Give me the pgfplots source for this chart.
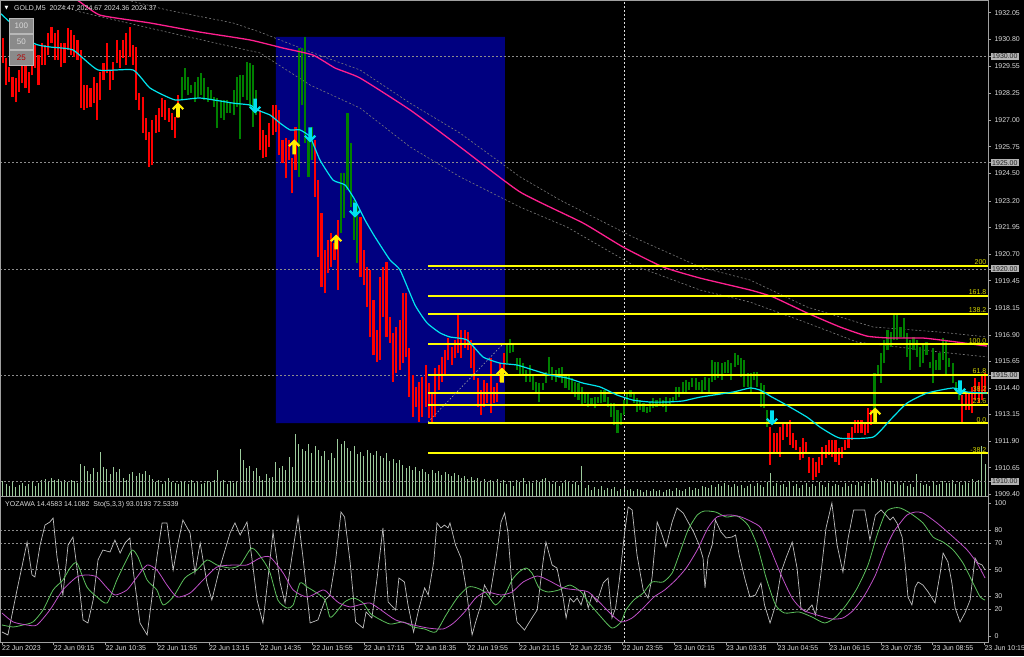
\documentclass[border=0pt]{standalone}
\usepackage{pgfplots}
\pgfplotsset{compat=1.18}
\usepackage{pgfplotstable}
\usepackage{fontspec}
\setmainfont{Liberation Sans}
\newfontfamily\dejavu{DejaVu Sans}

\definecolor{barred}{HTML}{FF0000}
\definecolor{bargreen}{HTML}{008000}
\definecolor{navyrect}{HTML}{000080}
\definecolor{maaqua}{HTML}{00E5EE}
\definecolor{mapink}{HTML}{FF1F8F}
\definecolor{fibyellow}{HTML}{FFFF00}
\definecolor{fibtext}{HTML}{D8D800}
\definecolor{gridgray}{HTML}{8C8C8C}
\definecolor{axisgray}{HTML}{A0A0A0}
\definecolor{labelgray}{HTML}{DCDCDC}
\definecolor{boxgray}{HTML}{B4B4B4}
\definecolor{boxtext}{HTML}{202020}
\definecolor{volgreen}{HTML}{9CCB9C}
\definecolor{arrowyellow}{HTML}{FFEE00}
\definecolor{arrowcyan}{HTML}{00E0F0}
\definecolor{stogray}{HTML}{BEBEBE}
\definecolor{stogreen}{HTML}{5CC05C}
\definecolor{stomag}{HTML}{C050C8}
\definecolor{bandgray}{HTML}{7A7A7A}
\definecolor{btnfill}{HTML}{8A8A8A}
\definecolor{btnborder}{HTML}{B8B8B8}

\newcommand\lblfont{\fontsize{7}{8}\selectfont}

\pgfdeclareplotmark{uarr}{%
  \pgfpathmoveto{\pgfpoint{0pt}{7.5pt}}%
  \pgfpathlineto{\pgfpoint{6pt}{1.5pt}}%
  \pgfpathlineto{\pgfpoint{4.4pt}{0pt}}%
  \pgfpathlineto{\pgfpoint{1.8pt}{2.6pt}}%
  \pgfpathlineto{\pgfpoint{1.8pt}{-7.5pt}}%
  \pgfpathlineto{\pgfpoint{-1.8pt}{-7.5pt}}%
  \pgfpathlineto{\pgfpoint{-1.8pt}{2.6pt}}%
  \pgfpathlineto{\pgfpoint{-4.4pt}{0pt}}%
  \pgfpathlineto{\pgfpoint{-6pt}{1.5pt}}%
  \pgfpathclose\pgfusepathqfill}
\pgfdeclareplotmark{darr}{%
  \pgfpathmoveto{\pgfpoint{0pt}{-7.5pt}}%
  \pgfpathlineto{\pgfpoint{6pt}{-1.5pt}}%
  \pgfpathlineto{\pgfpoint{4.4pt}{0pt}}%
  \pgfpathlineto{\pgfpoint{1.8pt}{-2.6pt}}%
  \pgfpathlineto{\pgfpoint{1.8pt}{7.5pt}}%
  \pgfpathlineto{\pgfpoint{-1.8pt}{7.5pt}}%
  \pgfpathlineto{\pgfpoint{-1.8pt}{-2.6pt}}%
  \pgfpathlineto{\pgfpoint{-4.4pt}{0pt}}%
  \pgfpathlineto{\pgfpoint{-6pt}{-1.5pt}}%
  \pgfpathclose\pgfusepathqfill}

% price bars (bar index, high, low)
\pgfplotstableread{
i hi lo
0 1930.86 1929.69
1 1929.92 1928.65
2 1929.50 1928.79
3 1929.03 1928.09
4 1928.98 1927.85
5 1929.36 1928.32
6 1929.97 1928.75
7 1929.73 1928.51
8 1929.26 1928.28
9 1930.63 1929.12
10 1930.53 1929.45
11 1930.06 1928.65
12 1930.63 1929.59
13 1930.53 1929.59
14 1931.10 1930.06
15 1931.38 1930.63
16 1931.10 1929.83
17 1931.24 1929.83
18 1930.63 1929.50
19 1930.63 1929.69
20 1931.33 1930.30
21 1931.24 1930.06
22 1931.00 1929.97
23 1930.77 1929.83
24 1930.30 1927.57
25 1928.65 1927.48
26 1928.65 1927.57
27 1928.51 1927.62
28 1929.03 1927.80
29 1928.75 1927.01
30 1929.26 1927.95
31 1929.69 1928.89
32 1930.63 1929.22
33 1929.36 1928.42
34 1929.73 1928.89
35 1930.77 1929.69
36 1930.30 1929.45
37 1930.77 1929.92
38 1931.10 1929.59
39 1931.38 1929.97
40 1930.53 1929.59
41 1930.44 1927.95
42 1928.28 1927.48
43 1928.09 1926.39
44 1927.10 1926.06
45 1926.44 1924.79
46 1927.01 1924.89
47 1927.24 1926.39
48 1927.57 1926.44
49 1928.04 1927.15
50 1927.95 1927.01
51 1927.57 1926.91
52 1927.33 1926.54
53 1927.15 1926.16
54 1928.18 1927.10
79 1927.48 1925.59
80 1926.54 1925.22
81 1926.30 1925.27
82 1926.86 1925.74
83 1927.71 1926.30
84 1927.71 1926.44
85 1927.48 1925.36
86 1926.06 1924.98
87 1926.16 1924.28
88 1926.06 1925.12
89 1925.22 1923.57
90 1926.68 1924.65
96 1926.06 1923.38
97 1924.18 1920.56
98 1922.63 1919.15
99 1920.89 1918.87
100 1921.36 1919.81
101 1921.69 1920.09
102 1921.22 1920.42
103 1922.30 1919.01
110 1922.44 1919.62
111 1920.89 1919.24
112 1920.09 1918.21
113 1919.95 1916.80
114 1918.54 1915.95
115 1917.13 1915.62
116 1919.62 1915.72
117 1920.09 1917.74
118 1920.33 1916.80
119 1917.74 1916.52
120 1916.99 1914.68
121 1917.27 1915.10
122 1917.60 1915.25
123 1918.87 1915.57
124 1918.87 1915.86
125 1916.28 1913.97
126 1915.01 1913.03
127 1914.45 1913.51
128 1914.68 1912.80
129 1914.92 1913.03
130 1915.48 1913.51
131 1914.63 1912.99
132 1914.16 1912.75
133 1915.34 1913.03
134 1915.48 1914.30
135 1915.86 1914.68
136 1916.19 1915.01
137 1916.75 1915.72
138 1916.33 1915.48
139 1916.66 1915.81
140 1917.83 1916.05
141 1917.13 1915.81
142 1917.13 1916.28
143 1917.03 1916.19
144 1916.66 1915.34
145 1916.33 1914.77
146 1914.87 1913.51
147 1914.30 1913.13
148 1914.77 1913.51
149 1914.63 1913.69
150 1915.81 1913.22
151 1914.45 1913.69
152 1914.63 1913.74
153 1915.57 1914.68
154 1916.05 1915.10
236 1912.56 1910.78
237 1912.28 1911.34
238 1912.28 1911.39
239 1912.56 1911.15
240 1912.80 1911.95
241 1912.80 1912.09
242 1912.89 1911.72
243 1912.28 1911.58
244 1911.95 1911.48
245 1911.62 1911.01
246 1912.04 1911.11
247 1911.86 1911.34
248 1911.15 1910.40
249 1911.11 1910.07
250 1910.92 1910.21
251 1911.15 1910.40
252 1911.62 1910.78
253 1911.72 1911.11
254 1911.95 1911.25
255 1911.95 1911.15
256 1911.95 1910.92
257 1911.58 1910.78
258 1911.62 1911.11
259 1911.95 1911.48
260 1912.28 1911.58
261 1912.56 1911.95
262 1912.89 1912.28
263 1912.89 1912.28
264 1912.89 1912.28
265 1912.80 1912.19
266 1913.46 1912.28
267 1913.36 1912.66
295 1914.07 1912.80
296 1914.16 1913.36
297 1914.21 1913.36
298 1914.45 1913.22
299 1914.87 1913.83
300 1914.68 1913.69
301 1915.01 1913.83
302 1915.10 1914.16
}\redbars

\pgfplotstableread{
i hi lo
55 1929.03 1927.95
56 1929.45 1928.42
57 1929.03 1928.18
58 1928.65 1928.28
59 1928.79 1927.85
60 1929.03 1928.09
61 1929.22 1928.18
62 1928.98 1927.95
63 1928.56 1927.85
64 1928.42 1927.95
65 1928.09 1927.62
66 1928.04 1926.63
67 1927.95 1927.10
68 1927.95 1927.01
69 1927.95 1927.33
70 1927.85 1927.33
71 1928.42 1927.24
72 1929.03 1927.62
73 1929.12 1926.11
74 1929.12 1928.09
75 1929.73 1927.95
76 1929.69 1927.62
77 1929.59 1926.68
78 1928.42 1927.24
91 1930.39 1924.33
92 1930.39 1927.71
93 1930.91 1925.92
94 1926.06 1924.33
95 1926.68 1925.12
104 1924.51 1921.69
105 1924.51 1922.40
106 1927.33 1923.71
107 1925.92 1922.91
108 1923.24 1921.36
109 1923.01 1920.28
155 1916.42 1915.57
156 1916.70 1916.05
157 1916.52 1916.09
158 1915.81 1915.25
159 1915.81 1915.01
160 1915.57 1915.01
161 1915.25 1914.68
162 1915.48 1914.68
163 1915.01 1914.30
164 1914.68 1914.16
165 1914.63 1913.74
166 1914.63 1914.30
167 1915.15 1914.63
168 1915.86 1915.01
169 1915.39 1914.77
170 1915.25 1914.68
171 1915.34 1914.87
172 1915.39 1914.63
173 1915.01 1914.40
174 1915.01 1914.30
175 1914.87 1914.16
176 1914.68 1913.97
177 1914.63 1913.83
178 1914.45 1913.60
179 1914.16 1913.69
180 1914.16 1913.51
181 1913.93 1913.60
182 1913.97 1913.46
183 1913.97 1913.69
184 1914.30 1913.69
185 1914.30 1913.74
186 1913.97 1913.51
187 1913.69 1913.03
188 1913.69 1912.66
189 1913.36 1912.28
190 1913.22 1912.66
191 1913.83 1913.13
192 1914.21 1913.60
193 1914.30 1913.97
194 1914.21 1913.69
195 1913.93 1913.27
196 1913.83 1913.36
197 1913.69 1913.27
198 1913.51 1913.22
199 1913.74 1913.27
200 1913.93 1913.46
201 1913.83 1913.51
202 1913.93 1913.60
203 1913.83 1913.51
204 1913.97 1913.27
205 1913.93 1913.60
206 1913.97 1913.74
207 1914.45 1913.83
208 1914.45 1913.97
209 1914.68 1914.21
210 1914.77 1914.16
211 1914.68 1914.30
212 1914.87 1914.45
213 1914.87 1914.30
214 1914.68 1914.30
215 1914.77 1914.16
216 1914.92 1914.30
217 1914.87 1914.21
218 1915.72 1914.68
219 1915.62 1914.77
220 1915.62 1914.87
221 1915.57 1914.77
222 1915.62 1915.10
223 1915.72 1915.10
224 1915.57 1914.77
225 1916.05 1915.39
226 1915.95 1915.48
227 1915.81 1914.92
228 1915.72 1914.45
229 1915.10 1914.45
230 1915.10 1914.21
231 1915.15 1914.77
232 1915.15 1914.45
233 1914.63 1913.51
234 1914.54 1913.46
235 1913.36 1912.56
268 1915.10 1912.89
269 1915.48 1915.01
270 1916.05 1914.63
271 1916.66 1915.57
272 1917.13 1916.19
273 1917.03 1916.33
274 1917.83 1916.66
275 1917.93 1916.66
276 1917.27 1916.80
277 1917.69 1916.75
278 1916.99 1915.86
279 1916.66 1915.25
280 1916.80 1916.19
281 1916.66 1915.86
282 1916.33 1915.39
283 1916.52 1915.57
284 1916.56 1915.95
285 1915.62 1915.34
286 1916.28 1914.63
287 1915.72 1915.25
288 1916.05 1915.25
289 1916.75 1915.72
290 1916.66 1915.01
291 1915.81 1915.39
292 1915.57 1914.63
293 1914.68 1914.16
294 1914.68 1913.83
}\greenbars

% tick volume per bar (index = row number)
\pgfplotstableread[row sep=\\]{
v\\
15\\12\\10\\14\\9\\11\\13\\10\\12\\14\\10\\13\\16\\17\\15\\18\\16\\17\\15\\16\\14\\16\\15\\13\\
32\\30\\25\\22\\28\\24\\44\\29\\27\\22\\29\\24\\27\\18\\16\\22\\24\\20\\23\\22\\25\\21\\
17\\14\\16\\12\\15\\18\\14\\13\\12\\15\\14\\12\\16\\13\\14\\12\\13\\15\\14\\16\\26\\14\\16\\12\\15\\13\\14\\
47\\36\\28\\30\\25\\28\\20\\16\\22\\18\\19\\34\\28\\30\\26\\39\\29\\62\\52\\47\\45\\52\\43\\50\\46\\
40\\45\\36\\43\\38\\57\\52\\55\\48\\45\\50\\42\\44\\40\\46\\43\\41\\45\\40\\38\\43\\35\\37\\33\\36\\31\\
28\\30\\26\\29\\25\\27\\24\\22\\26\\23\\25\\21\\24\\22\\20\\23\\21\\18\\20\\17\\19\\16\\18\\15\\17\\14\\16\\15\\17\\13\\16\\
12\\15\\10\\16\\14\\18\\12\\15\\13\\16\\14\\17\\18\\15\\12\\14\\10\\13\\16\\15\\12\\14\\11\\30\\
8\\11\\6\\9\\7\\10\\6\\8\\7\\9\\5\\7\\8\\6\\7\\
5\\7\\6\\4\\6\\5\\7\\5\\6\\4\\6\\7\\5\\8\\6\\5\\7\\9\\6\\8\\7\\10\\9\\8\\11\\9\\12\\10\\13\\11\\9\\12\\10\\11\\8\\10\\
12\\10\\13\\11\\9\\14\\23\\
10\\13\\11\\12\\9\\14\\10\\12\\8\\11\\13\\9\\12\\10\\14\\11\\9\\13\\10\\12\\11\\9\\13\\10\\12\\11\\14\\10\\13\\12\\
18\\15\\17\\14\\16\\13\\15\\12\\14\\11\\13\\10\\12\\9\\22\\13\\11\\12\\10\\14\\11\\12\\15\\13\\
13\\16\\12\\14\\11\\15\\13\\17\\14\\16\\50\\32\\
}\vol

\pgfplotsset{
  pricewin/.style={at={(0pt,160pt)}, anchor=south west, width=988pt, height=496pt,
    scale only axis, xmin=-0.83, xmax=302.9},
  pricetrafo/.style={y coord trafo/.code={\pgfmathparse{##1-1900}},
    y coord inv trafo/.code={\pgfmathparse{##1+1900}},
    ymin=1909.32, ymax=1932.65},
  pbar/.style={only marks, mark=*, mark size=0pt, mark options={draw=none, fill=none},
    error bars/.cd, y dir=plus, y explicit, error mark=none,
    error bar style={line width=2.1pt, draw=#1, solid}},
  fibline/.style={fibyellow, line width=2pt, mark=none},
}

\begin{document}
\begin{tikzpicture}[x=1pt,y=1pt]
\useasboundingbox (0,0) rectangle (1024,656);
\fill[black] (0,0) rectangle (1024,656);

% ---------- volume (own scale, bottom of price window)
\begin{axis}[pricewin, ymin=0, ymax=496, hide axis]
\addplot[ycomb, volgreen, line width=0.9pt, mark=none] table[x expr=\coordindex, y=v] {\vol};
\end{axis}

% ---------- price window: background objects and price scale
\begin{axis}[pricewin, pricetrafo,
  axis line style={draw=none}, xtick=\empty,
  ytick={1909.40,1910.65,1911.90,1913.15,1914.40,1915.65,1916.90,1918.15,1919.45,1920.70,1921.95,1923.20,1924.50,1925.75,1927.00,1928.25,1929.55,1930.80,1932.05},
  yticklabels={1909.40,1910.65,1911.90,1913.15,1914.40,1915.65,1916.90,1918.15,1919.45,1920.70,1921.95,1923.20,1924.50,1925.75,1927.00,1928.25,1929.55,1930.80,1932.05},
  ytick pos=right, yticklabel pos=right, tick align=outside, major tick length=3pt,
  tick style={axisgray, line width=0.6pt},
  yticklabel style={font=\lblfont, text=labelgray},
  extra y ticks={1910,1915,1920,1925,1930},
  extra y tick labels={1910.00,1915.00,1920.00,1925.00,1930.00},
  extra y tick style={yticklabel style={fill=boxgray, text=boxtext, inner sep=1pt}},
]
\addplot[draw=none, fill=navyrect, mark=none] coordinates {(84.0,1912.75)(154.4,1912.75)(154.4,1930.91)(84.0,1930.91)(84.0,1912.75)};
\addplot[gridgray, dash pattern=on 2pt off 2pt, line width=0.6pt, mark=none] coordinates {(-0.83,1910)(302.9,1910)};
\addplot[gridgray, dash pattern=on 2pt off 2pt, line width=0.6pt, mark=none] coordinates {(-0.83,1915)(302.9,1915)};
\addplot[gridgray, dash pattern=on 2pt off 2pt, line width=0.6pt, mark=none] coordinates {(-0.83,1920)(302.9,1920)};
\addplot[gridgray, dash pattern=on 2pt off 2pt, line width=0.6pt, mark=none] coordinates {(-0.83,1925)(302.9,1925)};
\addplot[gridgray, dash pattern=on 2pt off 2pt, line width=0.6pt, mark=none] coordinates {(-0.83,1930)(302.9,1930)};
\addplot[labelgray, dash pattern=on 2pt off 2pt, line width=0.6pt, mark=none] coordinates {(191.0,1909.32)(191.0,1932.65)};
% channel bands
\addplot[bandgray, dash pattern=on 2pt off 2pt, line width=0.6pt, mark=none] coordinates {
(29.91,1932.98)(38.22,1932.65)(50.51,1932.18)(70.80,1931.57)(79.10,1931.14)(95.40,1930.16)(109.85,1929.36)(125.22,1927.80)(140.59,1926.39)(159.04,1924.33)(171.34,1923.24)(193.78,1921.50)(214.38,1920.09)(229.75,1919.48)(247.27,1918.21)(267.56,1917.27)(288.16,1917.03)(302.61,1916.80)};
\addplot[bandgray, dash pattern=on 2pt off 2pt, line width=0.6pt, mark=none] coordinates {
(17.62,1932.41)(23.76,1932.09)(50.51,1931.14)(70.80,1930.44)(79.10,1930.16)(94.48,1928.65)(109.85,1927.57)(125.22,1925.74)(140.59,1924.33)(159.04,1922.91)(173.49,1921.97)(193.78,1920.18)(214.38,1919.01)(229.75,1918.44)(247.27,1917.46)(262.64,1916.56)(288.16,1916.09)(302.61,1915.86)};
\end{axis}

% ---------- price bars (offset so that the plotted numbers stay small)
\begin{axis}[pricewin, ymin=9.32, ymax=32.65, hide axis]
\addplot[pbar=barred] table[x=i, y expr=\thisrow{lo}-1900, y error plus expr=\thisrow{hi}-\thisrow{lo}] {\redbars};
\addplot[pbar=bargreen] table[x=i, y expr=\thisrow{lo}-1900, y error plus expr=\thisrow{hi}-\thisrow{lo}] {\greenbars};
\end{axis}

% ---------- price window: indicators drawn over the bars
\begin{axis}[pricewin, pricetrafo, hide axis]
\addplot[mapink, line width=1.3pt, mark=none, smooth, tension=0.3] coordinates {
(17.62,1932.89)(22.84,1932.65)(29.91,1931.94)(45.28,1931.57)(60.66,1931.14)(76.03,1930.77)(86.18,1930.39)(95.40,1930.06)(102.17,1929.45)(109.85,1928.98)(125.22,1927.48)(140.59,1925.74)(159.04,1923.62)(178.41,1922.16)(190.70,1921.03)(203.00,1920.09)(214.38,1919.57)(229.75,1919.01)(236.82,1918.68)(247.27,1917.93)(257.41,1917.27)(265.71,1916.84)(272.79,1916.75)(282.93,1916.75)(293.38,1916.56)(302.61,1916.37)};
% Fibonacci retracement
\addplot[fibline] coordinates {(130.75,1920.16)(302.9,1920.16)};
\addplot[fibline] coordinates {(130.75,1918.74)(302.9,1918.74)};
\addplot[fibline] coordinates {(130.75,1917.87)(302.9,1917.87)};
\addplot[fibline] coordinates {(130.75,1916.45)(302.9,1916.45)};
\addplot[fibline] coordinates {(130.75,1915.03)(302.9,1915.03)};
\addplot[fibline] coordinates {(130.75,1914.16)(302.9,1914.16)};
\addplot[fibline] coordinates {(130.75,1913.62)(302.9,1913.62)};
\addplot[fibline] coordinates {(130.75,1912.74)(302.9,1912.74)};
\addplot[fibline] coordinates {(130.75,1911.32)(302.9,1911.32)};
\addplot[gridgray!80!white, dash pattern=on 1.5pt off 2pt, line width=0.6pt, mark=none] coordinates {(130.75,1912.80)(153.5,1916.42)};
\node[anchor=south east, inner sep=1pt, font=\lblfont, text=fibtext] at (axis cs:302.75,1920.16) {200};
\node[anchor=south east, inner sep=1pt, font=\lblfont, text=fibtext] at (axis cs:302.75,1918.74) {161.8};
\node[anchor=south east, inner sep=1pt, font=\lblfont, text=fibtext] at (axis cs:302.75,1917.87) {138.2};
\node[anchor=south east, inner sep=1pt, font=\lblfont, text=fibtext] at (axis cs:302.75,1916.45) {100.0};
\node[anchor=south east, inner sep=1pt, font=\lblfont, text=fibtext] at (axis cs:302.75,1915.03) {61.8};
\node[anchor=south east, inner sep=1pt, font=\lblfont, text=fibtext] at (axis cs:302.75,1914.16) {38.2};
\node[anchor=south east, inner sep=1pt, font=\lblfont, text=fibtext] at (axis cs:302.75,1913.62) {23.6};
\node[anchor=south east, inner sep=1pt, font=\lblfont, text=fibtext] at (axis cs:302.75,1912.74) {0.0};
\node[anchor=south east, inner sep=1pt, font=\lblfont, text=fibtext] at (axis cs:302.75,1911.32) {-38.2};
% fast MA
\addplot[maaqua, line width=1.2pt, mark=none, smooth, tension=0.3] coordinates {
(-0.83,1932.04)(9.32,1930.63)(14.54,1930.44)(21.61,1930.30)(29.30,1929.36)(40.06,1929.36)(45.28,1928.51)(52.97,1927.95)(60.66,1928.04)(70.80,1927.80)(76.03,1927.71)(78.18,1927.48)(82.18,1927.24)(85.25,1926.86)(88.33,1926.54)(91.40,1926.54)(94.48,1926.21)(97.55,1925.12)(101.55,1924.18)(105.24,1923.95)(108.31,1923.24)(111.39,1922.30)(114.46,1921.50)(119.07,1920.42)(122.15,1919.95)(126.76,1918.30)(130.45,1917.46)(134.44,1916.99)(137.52,1916.80)(142.74,1916.66)(147.66,1915.86)(152.89,1915.57)(158.12,1915.48)(163.04,1915.25)(168.26,1915.01)(173.49,1914.87)(178.41,1914.63)(183.64,1914.45)(188.86,1914.07)(193.78,1913.83)(199.01,1913.74)(204.23,1913.74)(209.15,1913.79)(214.38,1913.97)(224.52,1914.21)(229.75,1914.40)(232.82,1914.30)(236.51,1913.97)(239.89,1913.69)(247.27,1913.03)(251.26,1912.56)(257.41,1912.04)(267.56,1912.09)(272.79,1912.89)(278.01,1913.69)(284.16,1914.16)(292.16,1914.40)(296.46,1914.21)(302.61,1914.16)};
% signal arrows
\addplot[only marks, mark=uarr, color=arrowyellow, mark options={fill=arrowyellow, draw=none}] coordinates {
(53.9,1927.48)(89.6,1925.74)(102.5,1921.27)(153.5,1915.01)(268.2,1913.13)};
\addplot[only marks, mark=darr, color=arrowcyan, mark options={fill=arrowcyan, draw=none}] coordinates {
(77.6,1927.66)(94.5,1926.30)(108.3,1922.77)(236.5,1912.99)(294.3,1914.40)};
\end{axis}

% ---------- oscillator window
\begin{axis}[at={(0pt,14pt)}, anchor=south west, width=988pt, height=144pt,
  scale only axis, xmin=-0.83, xmax=302.9, ymin=-4.52, ymax=104.0,
  axis line style={draw=none},
  ytick={0,20,30,50,70,80,100}, yticklabels={0,20,30,50,70,80,100},
  ytick pos=right, yticklabel pos=right,
  xtick={-0.22,15.68,31.57,47.47,63.36,79.26,95.15,111.04,126.94,142.83,158.73,174.62,190.51,206.41,222.30,238.20,254.09,269.98,285.88,301.77},
  xticklabels={22 Jun 2023,22 Jun 09:15,22 Jun 10:35,22 Jun 11:55,22 Jun 13:15,22 Jun 14:35,22 Jun 15:55,22 Jun 17:15,22 Jun 18:35,22 Jun 19:55,22 Jun 21:15,22 Jun 22:35,22 Jun 23:55,23 Jun 02:15,23 Jun 03:35,23 Jun 04:55,23 Jun 06:15,23 Jun 07:35,23 Jun 08:55,23 Jun 10:15},
  xtick pos=left, tick align=outside, major tick length=3pt,
  tick style={axisgray, line width=0.6pt},
  yticklabel style={font=\lblfont, text=labelgray},
  xticklabel style={font=\lblfont, text=labelgray, anchor=north west, inner sep=0.5pt, xshift=-0.5pt},
]
\foreach \lv in {20,30,50,70,80}{
  \edef\tmp{\noexpand\draw[gridgray, dash pattern=on 2pt off 2pt, line width=0.6pt] (axis cs:-0.83,\lv) -- (axis cs:302.9,\lv);}\tmp }
\draw[labelgray, dash pattern=on 2pt off 2pt, line width=0.6pt] (axis cs:191.0,-4.52) -- (axis cs:191.0,104);
% YOZAWA (fast line)
\addplot[stogray, line width=0.7pt, mark=none] coordinates {
(-0.2,3.0)(1.6,0.8)(4.4,34.7)(5.9,52.0)(7.5,70.8)(9.0,46.0)(9.9,44.5)(11.5,68.6)(13.0,83.6)(14.5,85.9)(15.5,88.9)(16.7,59.5)(18.5,30.9)(20.1,68.6)(21.6,74.6)(23.2,44.5)(24.7,12.1)(26.2,9.8)(27.8,27.1)(29.3,57.3)(30.8,64.8)(33.0,63.3)(34.5,72.3)(36.1,62.5)(37.6,70.1)(39.1,73.9)(40.1,49.7)(42.2,9.8)(44.4,0.8)(45.9,29.4)(47.4,59.5)(49.0,85.2)(50.5,85.2)(52.4,49.7)(53.9,70.1)(55.4,87.4)(57.6,77.6)(59.1,47.5)(60.7,70.1)(62.8,39.9)(64.3,27.1)(66.8,52.0)(69.9,77.6)(71.4,85.2)(73.0,76.1)(75.1,85.9)(76.6,58.8)(78.2,27.1)(80.0,9.8)(81.6,44.5)(83.1,78.4)(85.3,39.9)(86.8,24.9)(88.9,59.5)(90.8,89.7)(92.3,59.5)(94.5,9.8)(96.9,12.1)(99.1,27.1)
(100.6,30.9)(102.3,55.8)(104.0,93.4)(105.1,89.7)(106.8,55.8)(108.5,10.6)(110.8,6.0)(111.7,18.1)(113.5,13.6)(115.1,43.7)(116.9,81.4)(118.5,25.6)(120.8,19.6)(121.8,43.7)(123.5,40.7)(124.6,23.4)(126.3,3.0)(128.0,21.1)(129.7,36.2)(130.8,30.9)(132.5,55.8)(133.5,85.2)(134.7,81.4)(135.8,83.6)(136.9,81.4)(137.5,85.2)(139.2,68.6)(140.9,58.8)(142.4,36.9)(144.3,0.8)(145.4,10.6)(147.0,23.4)(148.1,38.4)(149.8,30.9)(151.5,55.8)(153.2,85.9)(154.3,92.7)(155.3,78.4)(156.6,36.2)(158.1,10.6)(160.4,4.5)(162.7,13.6)(164.3,19.6)(166.1,55.8)(167.0,70.8)(168.9,53.5)(170.4,51.2)(172.3,28.6)(173.2,13.6)(174.4,28.6)(175.5,25.6)(176.6,28.6)(177.8,23.4)(178.9,33.2)(180.0,21.1)(181.2,30.9)(182.7,25.6)(184.6,39.9)(186.1,43.7)(187.3,13.6)(188.4,21.1)(189.5,40.7)(191.2,78.4)(192.3,97.2)(193.5,95.0)(195.0,61.0)(196.9,34.7)(198.4,28.6)(199.6,43.7)(201.2,85.9)(202.4,78.4)(203.9,67.1)(205.8,85.9)(207.3,96.5)(209.2,92.7)(210.7,85.9)(212.4,78.4)(214.1,68.6)(215.3,58.8)(215.9,36.2)(216.8,58.8)(218.1,68.6)(219.1,87.4)(220.8,78.4)(222.4,73.9)(224.2,74.6)(225.3,76.1)(226.4,61.0)(228.1,43.7)(229.7,29.4)(231.4,30.9)(233.1,39.9)(234.2,23.4)(235.9,9.8)(237.6,23.4)(239.3,48.2)(240.8,58.8)(242.7,70.8)(244.2,51.2)(245.4,21.1)(246.9,18.1)(248.8,23.4)(249.9,15.8)(251.6,48.2)(253.1,81.4)(254.9,100.2)(256.5,68.6)(258.3,48.2)(259.9,73.9)(261.6,95.0)(265.0,95.0)(266.6,72.3)(268.3,91.2)(270.0,95.0)(271.5,91.2)
(272.8,87.4)(273.7,89.7)(274.9,85.2)(276.5,74.6)(277.4,55.0)(278.3,29.4)(279.5,23.4)(280.5,36.9)(281.4,40.7)(282.9,38.4)(284.5,33.2)(285.7,28.6)(286.6,24.9)(288.2,47.5)(289.1,62.5)(290.6,55.8)(291.8,39.9)(292.8,21.1)(294.3,10.6)(295.8,17.3)(297.4,27.1)(298.9,58.8)(299.8,55.0)(301.1,53.5)(302.0,49.7)};
% Stochastic main
\addplot[stogreen, line width=0.8pt, mark=none, smooth, tension=0.4] coordinates {
(-0.2,8.3)(3.2,6.8)(6.2,8.3)(9.3,10.6)(12.4,19.6)(15.5,34.7)(18.5,42.2)(20.7,51.2)(22.8,55.0)(25.9,36.9)(29.0,29.4)(32.1,24.9)(35.1,42.2)(37.6,55.0)(39.8,64.8)(41.6,59.5)(44.4,42.2)(47.4,34.7)(49.3,23.4)(52.4,29.4)(56.0,43.7)(59.7,49.7)(62.8,57.3)(65.9,53.5)(69.9,51.2)(73.0,53.5)(76.6,66.3)(80.0,57.3)(82.2,47.5)(84.6,27.1)(87.4,21.1)(89.3,23.4)(91.4,39.9)(93.6,36.9)(96.6,32.4)(99.1,27.1)
(100.6,14.3)(102.3,17.3)(105.1,25.6)(107.9,28.6)(110.8,24.9)(112.9,17.3)(115.1,13.6)(119.1,9.0)(123.1,10.6)(126.3,6.8)(129.7,5.3)(133.1,3.0)(136.3,15.8)(139.7,28.6)(143.1,36.9)(145.8,36.2)(148.6,32.4)(151.5,23.4)(154.3,30.9)(156.6,42.2)(158.7,48.2)(160.9,51.2)(162.7,47.5)(164.9,36.2)(167.6,33.2)(171.0,34.7)(174.4,38.4)(177.8,33.2)(180.0,25.6)(183.4,15.8)(187.3,6.0)(190.1,10.6)(191.6,19.6)(194.0,27.1)(196.9,32.4)(199.6,40.7)(203.0,40.7)(205.8,47.5)(207.9,61.0)(210.7,79.9)(213.5,91.2)(215.8,94.2)(219.2,93.4)(222.4,89.7)(225.8,90.4)(229.1,83.6)(231.9,68.6)(234.7,43.7)(237.6,23.4)(240.4,17.3)(244.8,18.1)(248.8,14.3)(252.7,9.8)(256.1,14.3)(259.3,23.4)(262.7,36.2)(266.0,53.5)(268.8,76.1)(271.5,93.4)(273.9,96.5)(275.9,96.5)
(278.9,92.7)(282.9,85.2)(286.0,74.6)(289.1,70.8)(292.2,64.8)(295.2,55.0)(298.3,39.9)(300.5,29.4)(302.0,27.1)};
% Stochastic signal
\addplot[stomag, line width=0.8pt, mark=none, smooth, tension=0.4] coordinates {
(-0.2,17.3)(3.2,10.6)(7.5,8.3)(10.5,8.3)(14.5,19.6)(18.5,34.7)(22.8,44.5)(25.9,46.0)(29.0,44.5)(32.1,36.2)(34.5,30.9)(38.2,34.7)(41.3,44.5)(44.4,53.5)(47.4,49.7)(50.5,38.4)(53.6,29.4)(57.6,32.4)(61.6,42.2)(65.9,52.0)(70.8,53.5)(75.1,53.5)(79.1,58.8)(82.2,59.5)(86.2,47.5)(89.3,34.7)(93.6,29.4)(98.5,34.7)
(100.6,30.9)(103.4,24.9)(106.8,21.9)(109.5,23.4)(112.9,24.9)(116.3,19.6)(120.8,12.1)(126.3,8.3)(130.8,6.0)(135.4,5.3)(138.6,9.8)(142.0,18.1)(145.4,28.6)(148.6,33.2)(153.2,30.9)(156.6,33.2)(160.0,40.7)(164.3,45.2)(167.6,42.2)(172.3,36.2)(176.6,34.7)(180.0,33.2)(183.4,25.6)(186.7,17.3)(190.1,10.6)(193.5,13.6)(196.9,21.1)(200.2,29.4)(203.5,34.7)(206.9,42.2)(210.1,51.2)(213.5,64.8)(216.8,81.4)(219.6,89.7)(223.6,91.2)(227.0,89.7)(230.4,85.9)(233.1,81.4)(235.9,66.3)(239.3,46.0)(242.7,28.6)(246.0,19.6)(250.4,15.8)(254.9,12.8)(258.3,13.6)(261.6,19.6)(265.0,30.9)(268.3,46.0)(271.5,66.3)(273.9,78.4)(275.9,85.2)
(278.0,91.2)(280.5,93.4)(282.9,92.7)(287.2,85.2)(292.2,74.6)(296.5,64.8)(299.5,55.0)(302.0,43.7)};
\end{axis}

% ---------- frame
\draw[axisgray, line width=0.8pt] (0.5,14) -- (0.5,655.5) -- (988.5,655.5) -- (988.5,14) -- cycle;
\draw[axisgray, line width=1.2pt] (0,159.2) -- (988.5,159.2);

% ---------- window captions
\node[anchor=west, inner sep=0, text=white] at (4.5,647.8) {\dejavu\fontsize{5}{5}\selectfont ▼};
\node[anchor=west, inner sep=0, font=\lblfont, text=labelgray] at (14,647.8) {GOLD,M5 \ 2024.47 2024.67 2024.36 2024.37};
\node[anchor=west, inner sep=0, font=\lblfont, text=labelgray] at (5,151) {YOZAWA 14.4583 14.1082 \ Sto(5,3,3) 93.0193 72.5339};

% ---------- zoom buttons
\draw[fill=btnfill, draw=btnborder, line width=0.6pt] (9.3,622.7) rectangle (33.3,637.7);
\draw[fill=btnfill, draw=btnborder, line width=0.6pt] (9.3,606.7) rectangle (33.3,621.7);
\draw[fill=btnfill, draw=btnborder, line width=0.6pt] (9.3,591) rectangle (33.3,606);
\node[font=\fontsize{8}{8}\selectfont, text=white!85!black] at (21.3,630.2) {100};
\node[font=\fontsize{8}{8}\selectfont, text=white!85!black] at (21.3,614.2) {50};
\node[font=\fontsize{8}{8}\selectfont, text=red!70!black] at (21.3,598.5) {25};
\end{tikzpicture}
\end{document}
